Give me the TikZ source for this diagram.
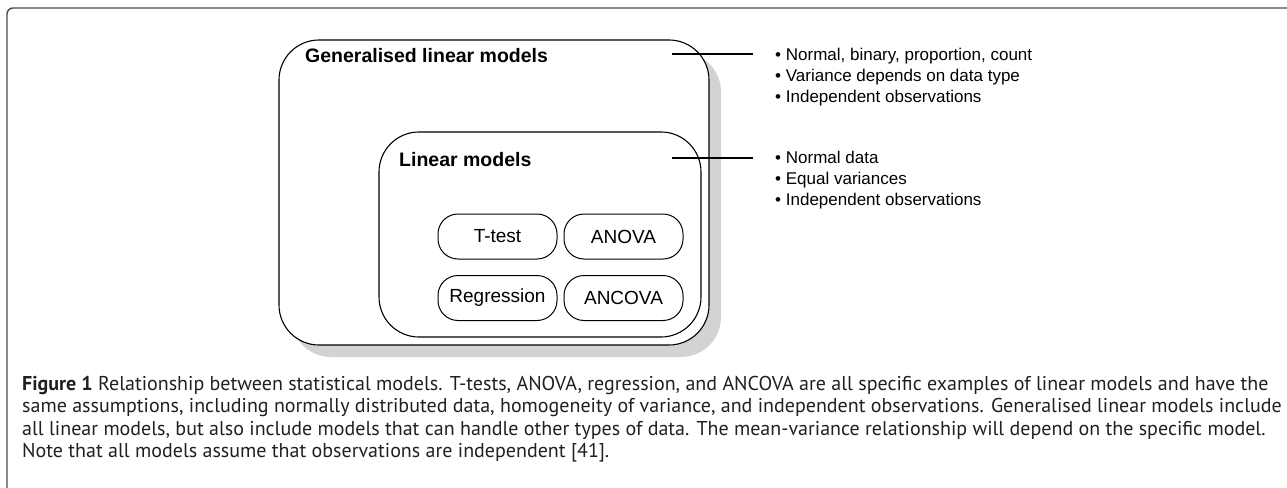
\documentclass[tikz,border=0pt]{standalone}
\usepackage{fontspec}
\setmainfont{Liberation Sans}
\newfontfamily\capfont{PT Sans}
\definecolor{shadowgray}{HTML}{D1D3D4}
\definecolor{framegray}{HTML}{4A4A4A}
\definecolor{captext}{HTML}{231F20}
\tikzset{
  bigbox/.style={draw=black, line width=1.1pt, fill=white, rounded corners=40pt, inner sep=0pt},
  shadowbox/.style={fill=shadowgray, rounded corners=40pt, inner sep=0pt},
  smallbox/.style={draw=black, line width=1pt, fill=white, rounded corners=20pt,
    minimum width=119pt, minimum height=45pt, inner sep=0pt, font=\fontsize{19}{22}\selectfont},
  boxtitle/.style={anchor=base west, inner sep=0pt, font=\fontsize{19.5}{23}\selectfont\bfseries},
  bullets/.style={anchor=north west, inner sep=0pt, align=left, font=\fontsize{17}{21}\selectfont},
  tick/.style={line width=1.8pt, black},
}
\begin{document}
\begin{tikzpicture}[x=1pt,y=-1pt]
\useasboundingbox (0,0) rectangle (1287,487);
% page frame
\draw[framegray, line width=1.4pt, rounded corners=6pt] (7,500) -- (7,8) -- (1300,8);
% shadow and boxes
\node[shadowbox, minimum width=430pt, minimum height=305pt] (glmshadow) at (506,204.5) {};
\node[bigbox, minimum width=430pt, minimum height=305pt] (glm) at (494,192.5) {};
\node[bigbox, minimum width=322pt, minimum height=205pt] (lm) at (540,234.5) {};
\node[boxtitle] (glmtitle) at (305,63) {Generalised linear models};
\node[boxtitle] (lmtitle) at (399,166) {Linear models};
\node[smallbox] (ttest) at (497.5,236.5) {T-test};
\node[smallbox] (anova) at (623.5,236.5) {ANOVA};
\node[smallbox] (regr) at (497.5,298) {Regression};
\node[smallbox] (ancova) at (623.5,298) {ANCOVA};
% bullet lists
\node[bullets] (glmlist) at (775,47.5) {• Normal, binary, proportion, count\\• Variance depends on data type\\• Independent observations};
\node[bullets] (lmlist) at (775,150.5) {• Normal data\\• Equal variances\\• Independent observations};
\coordinate (glmtick) at (672,54);
\coordinate (lmtick) at (672,158);
\draw[tick, shorten >=22pt] (glmtick) -- (glmtick -| glmlist.west);
\draw[tick, shorten >=22pt] (lmtick) -- (lmtick -| lmlist.west);
% caption
\node[anchor=north west, inner sep=0pt, align=left, text=captext,
  font=\capfont\fontsize{20}{22.3}\selectfont] (caption) at (22,376) {%
{\bfseries Figure 1} Relationship between statistical models. T-tests, ANOVA, regression, and ANCOVA are all specific examples of linear models and have the\\
same assumptions, including normally distributed data, homogeneity of variance, and independent observations. Generalised linear models include\\
all linear models, but also include models that can handle other types of data. The mean-variance relationship will depend on the specific model.\\
Note that all models assume that observations are independent [41].};
\end{tikzpicture}
\end{document}
